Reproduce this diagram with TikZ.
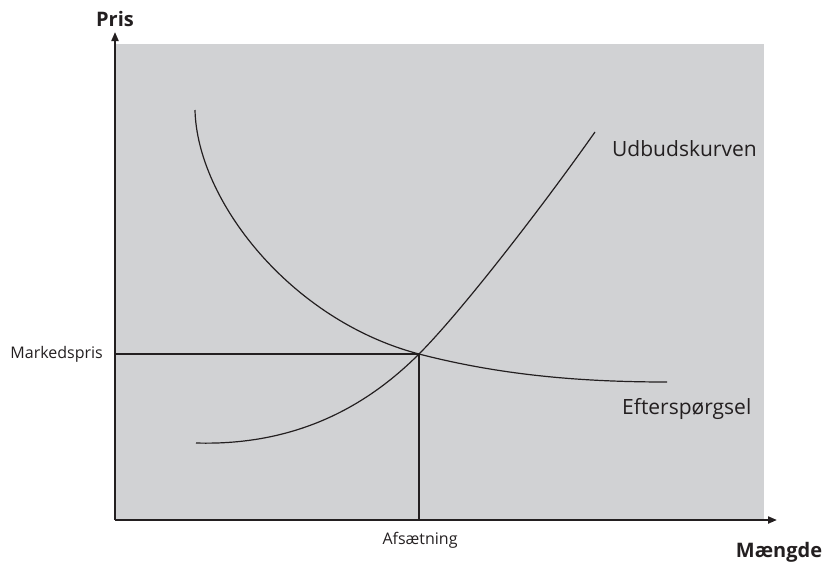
\documentclass[tikz,border=0pt]{standalone}
\usepackage{fontspec}
\setmainfont{Open Sans}
\usetikzlibrary{arrows.meta}
\definecolor{plotgray}{HTML}{D1D2D4}
\definecolor{ink}{HTML}{231F20}
\tikzset{
  axis/.style={draw=ink, line width=2pt, -{Triangle[length=9pt,width=7pt]}},
  curve/.style={draw=ink, line width=1.2pt},
  guide/.style={draw=ink, line width=1.2pt},
  big/.style={font=\fontsize{21}{25}\selectfont, text=ink, inner sep=0pt},
  small/.style={font=\fontsize{16}{19}\selectfont, text=ink, inner sep=0pt},
  title/.style={font=\fontsize{20}{24}\selectfont\bfseries, text=ink, inner sep=0pt},
}
\begin{document}
\begin{tikzpicture}[x=1pt,y=-1pt]
\useasboundingbox (0,0) rectangle (827,570);
\fill[plotgray] (115,44) rectangle (764,520);
% guide lines
\coordinate (eq) at (419,354);
\coordinate (pY) at (115,354);
\coordinate (qX) at (419,520);
\draw[guide] (pY) -- (eq) -- (qX);
% demand
\coordinate (d0) at (195,110);
\coordinate (d1) at (667,382);
\draw[curve] (d0) .. controls (197,200) and (290,320) .. (eq)
                  .. controls (500,375) and (580,382) .. (d1);
% supply
\coordinate (s0) at (196,443);
\coordinate (s1) at (595,132);
\draw[curve] (s0) .. controls (300,446) and (370,403) .. (eq)
                  .. controls (460,313) and (540,210) .. (s1);
% axes
\coordinate (o) at (115,520);
\coordinate (ytip) at (115,32);
\coordinate (xtip) at (777,520);
\draw[axis] (o) -- (ytip);
\draw[axis] (o) -- (xtip);
% labels
\node[title] (pris) at (115,19) {Pris};
\node[title] (maengde) at (779,552) {Mængde};
\node[small, anchor=east] (mp) at (103,354) {Markedspris};
\node[small] (afs) at (420,540) {Afsætning};
\node[big, anchor=west] (udb) at (612,149) {Udbudskurven};
\node[big, anchor=west] (eft) at (622,409) {Efterspørgsel};
\end{tikzpicture}
\end{document}
